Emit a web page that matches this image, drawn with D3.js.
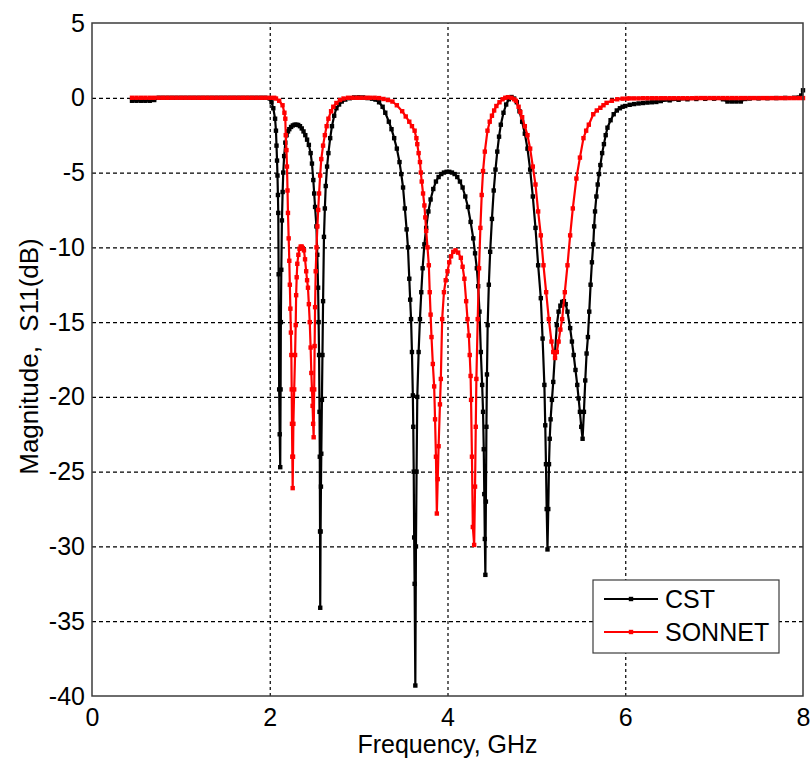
<!DOCTYPE html>
<html>
<head>
<meta charset="utf-8">
<script src="https://cdn.jsdelivr.net/npm/d3@7"></script>
<style>
    body { margin: 0; background: #fff; }
    text { font-family: "Liberation Sans", Arial, sans-serif; fill: #000; }
</style>
</head>
<body>
<svg id="chart" width="810" height="760"></svg>
<script>
// tick values
const freqTicks = [0, 2, 4, 6, 8];
const dbTicks = [5, 0, -5, -10, -15, -20, -25, -30, -35, -40];

// series names / colours
const seriesNames = ["CST", "SONNET"];
const seriesColours = ["#000000", "#ff0000"];

// CST: [frequency GHz, S11 dB]
const cstPoints = [
    [0.45, -0.2], [0.5, -0.2], [0.55, -0.2], [0.6, -0.2], [0.65, -0.2], [0.7, -0.15],
    [0.75, 0], [0.8, 0], [0.85, 0], [0.9, 0], [0.95, 0], [1.0, 0], [1.05, 0], [1.1, 0],
    [1.15, 0], [1.2, 0], [1.25, 0], [1.3, 0], [1.35, 0], [1.4, 0], [1.45, 0], [1.5, 0],
    [1.55, 0], [1.6, 0], [1.65, 0], [1.7, 0], [1.75, 0], [1.8, 0], [1.85, 0], [1.9, 0],
    [1.95, 0], [2.0, -0.05], [2.02, -0.3], [2.04, -0.7], [2.06, -1.4], [2.07, -2.2],
    [2.076, -3.2], [2.082, -4.2], [2.087, -5.2], [2.092, -6.5], [2.096, -7.7], [2.1, -11.8],
    [2.106, -19.5], [2.112, -22.5], [2.118, -24.7], [2.122, -19.5], [2.125, -15], [2.13, -11.5],
    [2.137, -8.2], [2.145, -6.3], [2.152, -5.0], [2.162, -3.9], [2.175, -3.0], [2.19, -2.5],
    [2.205, -2.25], [2.22, -2.1], [2.24, -1.95], [2.26, -1.85], [2.28, -1.8], [2.3, -1.8],
    [2.32, -1.82], [2.34, -1.9], [2.36, -2.05], [2.38, -2.25], [2.4, -2.5], [2.42, -2.8],
    [2.44, -3.15], [2.46, -3.7], [2.475, -4.4], [2.49, -5.5], [2.5, -6.4], [2.51, -7.3],
    [2.525, -8.6], [2.535, -10.5], [2.544, -12.7], [2.55, -15], [2.555, -17.2], [2.56, -21],
    [2.563, -24], [2.566, -29], [2.568, -34.1], [2.572, -29], [2.576, -26], [2.58, -23.8],
    [2.587, -20.2], [2.593, -17.2], [2.6, -13.6], [2.61, -9.3], [2.62, -7.4], [2.63, -5.9],
    [2.645, -4.6], [2.66, -3.7], [2.68, -2.7], [2.7, -1.9], [2.725, -1.2], [2.75, -0.7],
    [2.78, -0.45], [2.81, -0.25], [2.85, -0.12], [2.9, -0.03], [2.95, 0.02], [3.0, 0.03],
    [3.05, 0.02], [3.1, -0.02], [3.15, -0.06], [3.19, -0.12], [3.23, -0.3], [3.27, -0.6],
    [3.3, -1.0], [3.34, -1.6], [3.37, -2.1], [3.4, -2.7], [3.43, -3.4], [3.46, -4.3],
    [3.48, -5.1], [3.5, -6.0], [3.52, -7.4], [3.54, -8.8], [3.555, -10], [3.57, -12.1],
    [3.58, -13.5], [3.59, -14.8], [3.6, -17], [3.61, -19.9], [3.615, -22], [3.62, -25],
    [3.625, -29.4], [3.63, -32.5], [3.638, -39.3], [3.645, -30], [3.652, -25], [3.66, -20],
    [3.675, -17], [3.69, -14.8], [3.705, -13.0], [3.72, -11.4], [3.74, -9.8], [3.76, -8.7],
    [3.785, -7.6], [3.81, -6.8], [3.84, -6.1], [3.87, -5.6], [3.9, -5.3], [3.93, -5.1],
    [3.96, -5.0], [3.99, -4.95], [4.02, -4.95], [4.05, -5.0], [4.08, -5.1], [4.11, -5.3],
    [4.14, -5.6], [4.17, -6.0], [4.2, -6.6], [4.23, -7.3], [4.26, -8.3], [4.29, -9.4],
    [4.31, -10.4], [4.33, -11.4], [4.345, -12.6], [4.36, -14.3], [4.375, -17], [4.39, -19.2],
    [4.4, -21], [4.408, -23.5], [4.414, -26.5], [4.42, -29.5], [4.426, -31.9], [4.432, -27],
    [4.438, -22], [4.444, -18.5], [4.452, -15.2], [4.465, -12.5], [4.48, -10.3], [4.5, -8.1],
    [4.52, -6.2], [4.54, -4.8], [4.56, -3.6], [4.58, -2.6], [4.6, -1.8], [4.63, -1.0],
    [4.66, -0.45], [4.69, -0.1], [4.72, 0.05], [4.75, -0.05], [4.78, -0.3], [4.81, -0.9],
    [4.84, -1.6], [4.87, -2.4], [4.9, -3.4], [4.93, -4.8], [4.96, -6.6], [4.99, -8.7],
    [5.02, -11.2], [5.05, -13.4], [5.07, -16.1], [5.09, -19.2], [5.1, -21.9], [5.108, -24.5],
    [5.116, -27.5], [5.125, -30.2], [5.134, -27.5], [5.142, -24.5], [5.15, -22.8], [5.16, -21.5],
    [5.175, -20.2], [5.19, -19.0], [5.21, -17.0], [5.23, -15.2], [5.25, -14.3], [5.27, -13.9],
    [5.29, -13.65], [5.31, -13.6], [5.33, -13.8], [5.35, -14.3], [5.38, -15.4], [5.4, -16.3],
    [5.42, -17.2], [5.44, -18.2], [5.46, -19.2], [5.475, -20.1], [5.49, -21], [5.505, -22],
    [5.52, -22.8], [5.535, -21], [5.55, -18.9], [5.565, -17.1], [5.58, -16.0], [5.595, -14.3],
    [5.61, -12.5], [5.625, -11.0], [5.64, -9.8], [5.65, -8.6], [5.66, -7.6], [5.675, -6.6],
    [5.69, -5.8], [5.705, -5.1], [5.72, -4.5], [5.74, -3.7], [5.76, -3.1], [5.78, -2.5],
    [5.8, -2.0], [5.835, -1.5], [5.87, -1.1], [5.905, -0.85], [5.94, -0.7], [5.97, -0.6],
    [6.0, -0.55], [6.05, -0.47], [6.1, -0.42], [6.15, -0.38], [6.2, -0.35], [6.25, -0.32],
    [6.3, -0.3], [6.35, -0.28], [6.4, -0.22], [6.5, -0.17], [6.6, -0.13], [6.7, -0.1],
    [6.8, -0.08], [6.9, -0.07], [7.0, -0.06], [7.1, -0.1], [7.15, -0.25], [7.2, -0.25],
    [7.25, -0.25], [7.3, -0.25], [7.35, -0.08], [7.4, -0.05], [7.5, -0.04], [7.6, -0.03],
    [7.7, -0.02], [7.8, -0.01], [7.9, 0], [7.95, 0.02], [7.98, 0.15], [8.0, 0.5]
];

// SONNET: [frequency GHz, S11 dB]
const sonnetPoints = [
    [0.45, 0], [0.5, 0], [0.55, 0], [0.6, 0], [0.65, 0], [0.7, 0], [0.75, 0], [0.8, 0],
    [0.85, 0], [0.9, 0], [0.95, 0], [1.0, 0], [1.05, 0], [1.1, 0], [1.15, 0], [1.2, 0],
    [1.25, 0], [1.3, 0], [1.35, 0], [1.4, 0], [1.45, 0], [1.5, 0], [1.55, 0], [1.6, 0],
    [1.65, 0], [1.7, 0], [1.75, 0], [1.8, 0], [1.85, 0], [1.9, 0], [1.95, 0], [2.0, 0],
    [2.05, 0], [2.07, -0.05], [2.106, -0.2], [2.144, -0.5], [2.165, -1.0], [2.175, -1.4],
    [2.18, -2.5], [2.188, -3.5], [2.194, -4.6], [2.2, -6.2], [2.205, -7.7], [2.213, -9.4],
    [2.22, -10.9], [2.226, -12.5], [2.232, -14.1], [2.238, -15.7], [2.243, -17.2], [2.247, -19.5],
    [2.25, -21.8], [2.254, -24], [2.258, -26.1], [2.262, -24], [2.266, -21.8], [2.275, -19.5],
    [2.285, -17.2], [2.292, -15.2], [2.297, -13.2], [2.303, -12.0], [2.31, -11.1], [2.322, -10.5],
    [2.335, -10.1], [2.348, -9.95], [2.36, -9.95], [2.372, -10.05], [2.385, -10.2], [2.397, -10.8],
    [2.41, -11.6], [2.42, -12.2], [2.43, -12.7], [2.44, -13.8], [2.45, -15], [2.46, -16.7],
    [2.468, -18.4], [2.475, -19.5], [2.482, -20.6], [2.488, -21.8], [2.494, -22.7], [2.5, -19.5],
    [2.505, -16.6], [2.51, -14], [2.517, -11.6], [2.526, -10], [2.536, -8.6], [2.545, -7.5],
    [2.555, -6.4], [2.567, -5.2], [2.58, -4.1], [2.6, -3.2], [2.62, -2.5], [2.64, -1.9],
    [2.66, -1.4], [2.69, -0.9], [2.715, -0.6], [2.75, -0.35], [2.79, -0.15], [2.83, -0.05],
    [2.88, 0], [2.93, 0], [2.98, 0], [3.03, 0], [3.08, 0], [3.13, 0], [3.18, 0],
    [3.23, -0.02], [3.28, -0.08], [3.33, -0.15], [3.38, -0.25], [3.43, -0.5], [3.49, -0.9],
    [3.53, -1.25], [3.57, -1.6], [3.6, -1.9], [3.63, -2.2], [3.65, -2.7], [3.66, -3.1],
    [3.675, -3.7], [3.69, -4.3], [3.7, -5.0], [3.71, -5.6], [3.725, -6.4], [3.74, -7.2],
    [3.75, -8.0], [3.76, -8.9], [3.775, -10], [3.79, -11.2], [3.8, -13.0], [3.81, -14.5],
    [3.82, -16], [3.835, -17.8], [3.85, -19.3], [3.86, -21.5], [3.87, -24], [3.88, -27.8],
    [3.89, -25.5], [3.9, -23.3], [3.915, -20.5], [3.925, -18.8], [3.94, -14.8], [3.96, -13],
    [3.98, -12.2], [4.0, -11.6], [4.02, -11.0], [4.04, -10.6], [4.065, -10.3], [4.09, -10.2],
    [4.12, -10.35], [4.15, -10.7], [4.17, -11.3], [4.19, -12.1], [4.21, -13.6], [4.225, -14.8],
    [4.24, -15.9], [4.25, -17.2], [4.26, -18.6], [4.265, -20.2], [4.275, -24], [4.285, -28.7],
    [4.3, -29.9], [4.31, -26], [4.318, -22], [4.325, -18.8], [4.34, -14.8], [4.355, -11.4],
    [4.37, -8.7], [4.385, -6.5], [4.4, -4.9], [4.42, -3.6], [4.45, -2.2], [4.475, -1.6],
    [4.5, -1.2], [4.525, -0.85], [4.55, -0.55], [4.585, -0.3], [4.62, -0.1], [4.65, 0],
    [4.68, 0.04], [4.72, 0.0], [4.75, -0.1], [4.77, -0.2], [4.8, -0.6], [4.82, -0.95],
    [4.84, -1.3], [4.87, -1.9], [4.9, -2.5], [4.93, -3.4], [4.96, -4.6], [4.99, -5.8],
    [5.02, -7.6], [5.05, -9.2], [5.08, -11.2], [5.11, -13.0], [5.14, -14.8], [5.17, -16.3],
    [5.19, -17.0], [5.21, -17.4], [5.23, -17.0], [5.25, -16.3], [5.27, -15.5], [5.29, -14.8],
    [5.32, -13.0], [5.35, -11.2], [5.38, -9.2], [5.41, -7.4], [5.45, -5.4], [5.49, -4.0],
    [5.53, -2.7], [5.56, -2.2], [5.59, -1.8], [5.64, -1.1], [5.68, -0.85], [5.72, -0.67],
    [5.755, -0.5], [5.79, -0.34], [5.85, -0.2], [5.91, -0.1], [5.97, -0.06], [6.02, -0.05],
    [6.05, -0.04], [6.1, -0.04], [6.15, -0.04], [6.2, -0.03], [6.25, -0.03], [6.3, -0.03],
    [6.35, -0.03], [6.4, -0.03], [6.45, -0.03], [6.5, -0.03], [6.55, -0.03], [6.6, -0.03],
    [6.65, -0.03], [6.7, -0.03], [6.75, -0.03], [6.8, -0.02], [6.85, -0.02], [6.9, -0.02],
    [6.95, -0.02], [7.0, -0.02], [7.05, -0.02], [7.1, -0.02], [7.15, -0.02], [7.2, -0.02],
    [7.25, -0.02], [7.3, -0.02], [7.35, -0.02], [7.4, -0.02], [7.45, -0.02], [7.5, -0.02],
    [7.55, -0.02], [7.6, -0.02], [7.65, -0.02], [7.7, -0.02], [7.75, -0.02], [7.8, -0.02],
    [7.85, -0.02], [7.9, -0.02], [7.95, -0.02], [8.0, -0.02]
];

const svg = d3.select("#chart");

const margin = { top: 23, right: 7, bottom: 64, left: 92 },
    width = 810 - margin.left - margin.right,
    height = 760 - margin.top - margin.bottom;

const plot = svg.append("g")
    .attr("transform", `translate(${margin.left},${margin.top})`);

const x = d3.scaleLinear().domain([0, 8]).range([0, width]);
const y = d3.scaleLinear().domain([-40, 5]).range([height, 0]);

// plain hyphen minus, like the original figure
const plainFormat = d => String(d);

// dotted grid
plot.append("g")
    .attr("class", "grid-x")
    .attr("transform", `translate(0,${height})`)
    .call(d3.axisBottom(x).tickValues(freqTicks.slice(1, -1)).tickSize(-height).tickFormat(""))
    .call(g => g.select(".domain").remove())
    .call(g => g.selectAll("line")
        .attr("stroke", "#000").attr("stroke-width", 1.2).attr("stroke-dasharray", "3,3"));

plot.append("g")
    .attr("class", "grid-y")
    .call(d3.axisLeft(y).tickValues(dbTicks.slice(1, -1)).tickSize(-width).tickFormat(""))
    .call(g => g.select(".domain").remove())
    .call(g => g.selectAll("line")
        .attr("stroke", "#000").attr("stroke-width", 1.2).attr("stroke-dasharray", "4,3"));

// curves
const line = d3.line().x(d => x(d[0])).y(d => y(d[1]));

[cstPoints, sonnetPoints].forEach((pts, i) => {
    const colour = seriesColours[i];
    plot.append("path")
        .datum(pts)
        .attr("fill", "none")
        .attr("stroke", colour)
        .attr("stroke-width", 2.2)
        .attr("stroke-linejoin", "round")
        .attr("d", line);

    plot.append("g")
        .selectAll("rect")
        .data(pts)
        .enter()
        .append("rect")
        .attr("x", d => x(d[0]) - 2.2)
        .attr("y", d => y(d[1]) - 2.2)
        .attr("width", 4.4)
        .attr("height", 4.4)
        .attr("fill", colour);
});

// axes box
plot.append("rect")
    .attr("width", width)
    .attr("height", height)
    .attr("fill", "none")
    .attr("stroke", "#3c3c3c")
    .attr("stroke-width", 1.5);

// tick labels
plot.append("g")
    .attr("transform", `translate(0,${height})`)
    .call(d3.axisBottom(x).tickValues(freqTicks).tickFormat(plainFormat).tickSize(0).tickPadding(12))
    .call(g => g.select(".domain").remove())
    .call(g => g.selectAll("text")
        .attr("font-size", 25).attr("font-family", "Liberation Sans, Arial, sans-serif").attr("fill", "#000"));

plot.append("g")
    .call(d3.axisLeft(y).tickValues(dbTicks).tickFormat(plainFormat).tickSize(0).tickPadding(7))
    .call(g => g.select(".domain").remove())
    .call(g => g.selectAll("text")
        .attr("font-size", 25).attr("font-family", "Liberation Sans, Arial, sans-serif").attr("fill", "#000"));

// axis titles
svg.append("text")
    .attr("x", margin.left + width / 2)
    .attr("y", 753)
    .attr("text-anchor", "middle")
    .attr("font-size", 25)
    .text("Frequency, GHz");

svg.append("text")
    .attr("transform", `translate(38,${margin.top + y(-17.3)}) rotate(-90)`)
    .attr("text-anchor", "middle")
    .attr("font-size", 26)
    .style("white-space", "pre")
    .text("Magnitude,  S11(dB)");

// legend
const legend = svg.append("g").attr("transform", "translate(593,580)");
legend.append("rect")
    .attr("width", 186)
    .attr("height", 73)
    .attr("fill", "#fff")
    .attr("stroke", "#3c3c3c")
    .attr("stroke-width", 1.2);

seriesNames.forEach((name, i) => {
    const ly = 19 + i * 33;
    legend.append("line")
        .attr("x1", 11).attr("x2", 65)
        .attr("y1", ly).attr("y2", ly)
        .attr("stroke", seriesColours[i])
        .attr("stroke-width", 2.2);
    legend.append("rect")
        .attr("x", 38 - 2.2).attr("y", ly - 2.2)
        .attr("width", 4.4).attr("height", 4.4)
        .attr("fill", seriesColours[i]);
    legend.append("text")
        .attr("x", 72)
        .attr("y", ly + 9)
        .attr("font-size", 25)
        .text(name);
});
</script>
</body>
</html>
